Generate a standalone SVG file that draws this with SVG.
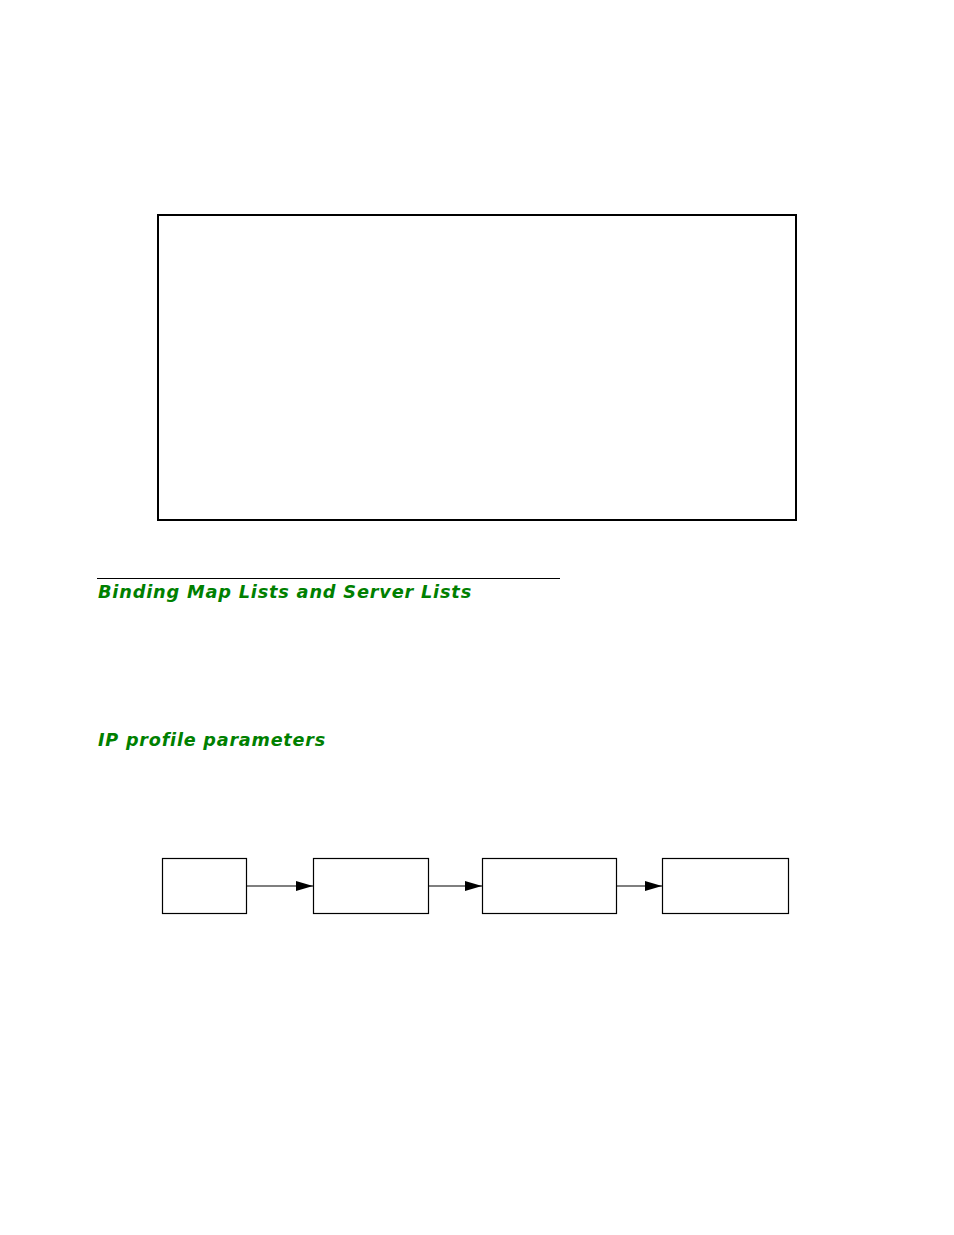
<svg xmlns="http://www.w3.org/2000/svg" width="954" height="1235" viewBox="0 0 954 1235">
<style>
.box{fill:#fff;stroke:#000;stroke-width:1.2}
.conn{stroke:#000;stroke-width:1.2;fill:none}
.h{font-family:"DejaVu Sans",sans-serif;font-style:italic;font-weight:bold;font-size:18px;fill:#008000;letter-spacing:0.8px}
</style>
<defs>
<marker id="arr" markerWidth="18" markerHeight="10" refX="17" refY="5" orient="auto" markerUnits="userSpaceOnUse">
<path d="M0,0 L17,5 L0,10 Z" fill="#000"/>
</marker>
</defs>
<rect width="954" height="1235" fill="#fff"/>
<g id="frame"><rect x="158" y="215" width="638" height="305" fill="none" stroke="#000" stroke-width="2"/></g>
<g id="heading1">
<line x1="97" y1="578.5" x2="560" y2="578.5" stroke="#000" stroke-width="1"/>
<text class="h" x="98" y="598" textLength="374" lengthAdjust="spacingAndGlyphs">Binding Map Lists and Server Lists</text>
</g>
<g id="heading2"><text class="h" x="98" y="746" textLength="228" lengthAdjust="spacingAndGlyphs">IP profile parameters</text></g>
<g id="n1"><rect class="box" x="162.5" y="858.5" width="84" height="55"/></g>
<g id="n2"><rect class="box" x="313.5" y="858.5" width="115" height="55"/></g>
<g id="n3"><rect class="box" x="482.5" y="858.5" width="134" height="55"/></g>
<g id="n4"><rect class="box" x="662.5" y="858.5" width="126" height="55"/></g>
<g id="connectors">
<line class="conn" x1="246.5" y1="886" x2="313" y2="886" marker-end="url(#arr)"/>
<line class="conn" x1="428.5" y1="886" x2="482" y2="886" marker-end="url(#arr)"/>
<line class="conn" x1="616.5" y1="886" x2="662" y2="886" marker-end="url(#arr)"/>
</g>
</svg>
